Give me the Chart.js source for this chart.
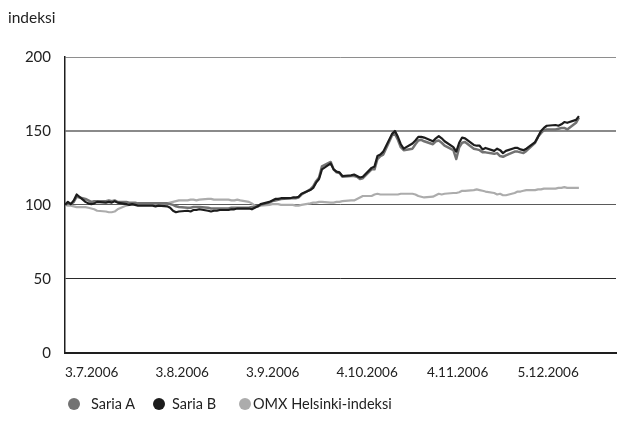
<!DOCTYPE html>
<html>
<head>
<meta charset="utf-8">
<script src="https://cdn.jsdelivr.net/npm/chart.js@4/dist/chart.umd.min.js"></script>
<style>
  html, body { margin: 0; padding: 0; background: #fff; }
  #wrap { position: relative; width: 618px; height: 427px; font-family: Lato, "Open Sans", sans-serif; color: #222; }
  #c { position: absolute; left: 0; top: 0; }
  #ytitle { position: absolute; left: 8px; top: 8px; font-size: 15.5px; }
  .lg { position: absolute; top: 395px; font-size: 14.5px; line-height: 17px; white-space: nowrap; }
  .dot { position: absolute; top: 398px; width: 12px; height: 12px; border-radius: 50%; }
</style>
</head>
<body>
<div id="wrap">
  <canvas id="c" width="618" height="427"></canvas>
  <div id="ytitle">indeksi</div>
  <div id="legend"></div>
</div>
<script>
// ---- data ----
const startDate = [2006, 6, 3];           // 3.7.2006 (first trading day)
const tickDays = [0, 31, 62, 93, 124, 155];
const tickLabels = ['3.7.2006', '3.8.2006', '3.9.2006', '4.10.2006', '4.11.2006', '5.12.2006'];
const seriesNames = ['Saria A', 'Saria B', 'OMX Helsinki-indeksi'];

const sariaA = [
  100, 101, 100.5, 102, 105.5,
  104, 103, 102, 102.5, 102.5,
  102.5, 103, 102.5, 103, 102,
  102, 101.5, 101.5, 101.5, 101,
  101, 101, 101, 101, 101,
  101, 100.5, 100, 99, 98.5,
  98, 98, 98.5, 98.5, 98.5,
  98, 97.5, 97.5, 97.5, 97.5,
  97.5, 98, 98, 98, 98,
  98, 98.5, 98.5, 99, 100,
  101.5, 102.5, 103, 103.5, 104,
  104.5, 104.5, 104.5, 105, 107,
  110.5, 112.5, 116, 118.5, 126,
  129, 124, 122, 121.5, 119,
  119.5, 119.5, 119, 117.5, 118,
  124, 124, 131, 133, 134,
  147, 148, 144, 139, 137,
  138, 141, 143.5, 144, 143,
  141, 143, 143.5, 142, 140,
  137, 131, 139, 142, 142.5,
  138, 137.5, 137, 135.5, 135.5,
  134.5, 135, 133, 132.5, 133.5,
  136, 136, 135.5, 135, 136.5,
  142, 146, 148.5, 150.5, 151,
  151, 151.5, 152, 152, 151,
  155.5, 159
];
const sariaB = [
  100, 102, 100.5, 103, 107,
  102, 101, 100.5, 101, 102,
  101.5, 102, 101.5, 102.5, 101.5,
  100.5, 100, 100.5, 100, 99.5,
  99.5, 99.5, 99.5, 99, 99.5,
  99, 98, 96, 95, 95.5,
  96, 95.5, 96.5, 96.5, 97,
  96, 95.5, 96, 96, 96.5,
  96.5, 97, 97, 97.5, 97.5,
  97.5, 97, 98, 99, 100.5,
  102, 103, 104, 104, 104.5,
  104.5, 105, 105, 105.5, 107.5,
  110, 111.5, 115, 117.5, 124,
  128, 124, 122.5, 122, 119.5,
  120, 120.5, 119.5, 118.5, 119,
  125, 126, 133, 134, 136,
  148, 150, 146, 141, 138,
  141.5, 143.5, 146, 146, 145.5,
  143, 145, 146.5, 145, 143,
  139, 136, 142, 145.5, 145,
  140.5, 140, 140, 137.5, 138.5,
  136.5, 138, 137, 135, 136.5,
  138.5, 138.5, 137.5, 137, 138,
  142.5, 146, 150, 152, 153.5,
  154, 153.5, 154.5, 156, 155.5,
  157.5, 160
];
const omx = [
  100, 99.5, 99.5, 99, 98.5,
  98.5, 98, 97.5, 97, 96,
  95.5, 95, 95, 95.5, 97,
  99.5, 100, 100, 100.5, 100.5,
  100.5, 100.5, 100.5, 100.5, 100.5,
  101, 101.5, 102, 102.5, 103,
  103, 103.5, 103.5, 103, 103.5,
  104, 104, 103.5, 103.5, 103.5,
  103.5, 103, 103, 103.5, 103,
  102, 101, 99.5, 99, 99.5,
  100, 100.5, 100.5, 100.5, 100,
  100, 100, 99.5, 99.5, 100,
  101, 101.5, 101.5, 102, 102,
  101.5, 101.5, 102, 102, 102.5,
  103, 103, 104, 105, 106,
  106, 107, 107.5, 107, 107,
  107, 107, 107, 107.5, 107.5,
  107.5, 107, 106, 105.5, 105,
  105.5, 106.5, 107.5, 107, 107.5,
  108, 108, 108.5, 109.5, 109.5,
  110, 110.5, 110, 109.5, 109,
  108, 107, 107.5, 106.5, 106.5,
  108, 109, 109, 109.5, 110,
  110, 110.5, 110.5, 111, 111,
  111, 111.5, 111.5, 112, 111.5,
  111.5, 111.5
];

// trading days (weekdays) counted from the start date, as day offsets
function tradingDayOffsets(n) {
  const out = [];
  const d0 = new Date(startDate[0], startDate[1], startDate[2]);
  let d = new Date(d0);
  while (out.length < n) {
    const wd = d.getDay();
    if (wd !== 0 && wd !== 6) out.push(Math.round((d - d0) / 86400000));
    d.setDate(d.getDate() + 1);
  }
  return out;
}
const dayX = tradingDayOffsets(sariaA.length);
const toPts = arr => arr.map((v, i) => ({ x: dayX[i], y: v }));

const colors = ['#727272', '#1c1c1c', '#acacac'];

// HTML legend
const legendPos = [[74, 91], [159, 172], [245, 253]];
const lg = document.getElementById('legend');
seriesNames.forEach((name, i) => {
  const dot = document.createElement('div');
  dot.className = 'dot';
  dot.style.left = (legendPos[i][0] - 6) + 'px';
  dot.style.background = colors[i];
  lg.appendChild(dot);
  const t = document.createElement('div');
  t.className = 'lg';
  t.style.left = legendPos[i][1] + 'px';
  t.textContent = name;
  lg.appendChild(t);
});

const gridColor = v => v === 200 ? '#8e8e8e' : v === 150 ? '#8a8a8a' : v === 100 ? '#5a5a5a' : v === 50 ? '#2a2a2a' : '#222';
const gridWidth = v => v === 150 ? 2 : 1;

new Chart(document.getElementById('c'), {
  type: 'line',
  data: {
    datasets: [
      { label: seriesNames[0], data: toPts(sariaA), borderColor: colors[0], borderWidth: 2.5, order: 1 },
      { label: seriesNames[1], data: toPts(sariaB), borderColor: colors[1], borderWidth: 2.2, order: 0 },
      { label: seriesNames[2], data: toPts(omx), borderColor: colors[2], borderWidth: 2.2, order: 2 }
    ]
  },
  options: {
    responsive: false,
    animation: false,
    layout: { padding: { left: 0, right: 2, top: 57, bottom: 0 } },
    elements: { point: { radius: 0 }, line: { tension: 0, borderJoinStyle: 'round' } },
    plugins: { legend: { display: false }, tooltip: { enabled: false } },
    scales: {
      x: {
        type: 'linear',
        min: 0,
        max: 188.7,
        afterBuildTicks: s => { s.ticks = tickDays.map(v => ({ value: v })); },
        afterFit: s => { s.height = 427 - 352.7; },
        grid: { display: false, drawTicks: false },
        border: { display: true, color: '#1e1e1e', width: 2 },
        ticks: {
          align: 'start',
          padding: 12,
          maxRotation: 0,
          autoSkip: false,
          color: '#222',
          font: { family: 'Lato', size: 13.5 },
          callback: (v) => { const k = tickDays.indexOf(v); return k >= 0 ? tickLabels[k] : ''; }
        }
      },
      y: {
        min: 0,
        max: 200,
        afterFit: s => { s.width = 65; },
        ticks: { stepSize: 50, padding: 14, color: '#222', font: { family: 'Lato', size: 15 } },
        grid: {
          drawTicks: false,
          color: c => gridColor(c.tick.value),
          lineWidth: c => gridWidth(c.tick.value)
        },
        border: { display: true, color: '#1e1e1e', width: 1.5 }
      }
    }
  }
});
</script>
</body>
</html>
